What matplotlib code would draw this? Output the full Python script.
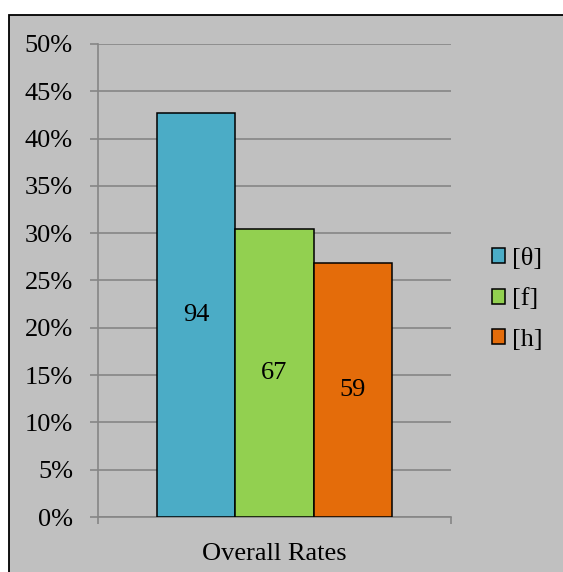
import matplotlib
matplotlib.use("Agg")
import matplotlib.pyplot as plt
from matplotlib.patches import Rectangle
from matplotlib.ticker import PercentFormatter, MultipleLocator

# Response counts per sound
sounds = ["[θ]", "[f]", "[h]"]
counts = [94, 67, 59]
category = "Overall Rates"
colors = ["#4BACC6", "#92D050", "#E46C0A"]

total = sum(counts)
shares = [c / total for c in counts]

plt.rcParams["font.family"] = ["Liberation Serif", "DejaVu Serif"]
FS = 19
GRID = "#868686"
BG = "#C0C0C0"

W, H = 563, 572
fig = plt.figure(figsize=(W / 100, H / 100), dpi=100)
fig.patch.set_facecolor("white")

# Chart area frame
fig.patches.append(Rectangle((9 / W, -0.05), 1.2, 1 - 15 / H + 0.05,
                             transform=fig.transFigure, facecolor=BG,
                             edgecolor="black", linewidth=1.3, zorder=-5))

ax = fig.add_axes([98 / W, 1 - 517 / H, (451 - 98) / W, (517 - 44) / H])
ax.set_zorder(2)
ax.patch.set_alpha(0)

width = 2 / 9
for i, (s, v, c, n) in enumerate(zip(sounds, shares, colors, counts)):
    x = 0.5 + (i - 1) * width
    ax.bar(x, v, width=width, color=c, edgecolor="black", linewidth=1.1,
           label=s, zorder=3)
    ax.text(x, v / 2, str(n), ha="center", va="center", fontsize=FS,
            color="black", zorder=4)

ax.set_xlim(0, 1)
ax.set_ylim(0, 0.5)
ax.yaxis.set_major_locator(MultipleLocator(0.05))
ax.yaxis.set_major_formatter(PercentFormatter(1.0, decimals=0))
ax.grid(axis="y", color=GRID, linewidth=1.2, zorder=1)
ax.set_axisbelow(True)

for side in ["top", "right"]:
    ax.spines[side].set_visible(False)
for side in ["left", "bottom"]:
    ax.spines[side].set_color(GRID)
    ax.spines[side].set_linewidth(1.2)

ax.tick_params(axis="y", direction="out", length=6, width=1.2, color=GRID,
               labelsize=FS, pad=12, labelcolor="black")
ax.set_xticks([0, 1])
ax.set_xticklabels(["", ""])
ax.tick_params(axis="x", which="major", direction="out", length=5, width=1.2,
               color=GRID)
ax.set_xticks([0.5], minor=True)
ax.set_xticklabels([category], minor=True)
ax.tick_params(axis="x", which="minor", length=0, labelsize=FS, pad=19,
               labelcolor="black")

leg = fig.legend(loc="upper left", bbox_to_anchor=(492 / W, 1 - 248 / H),
                 frameon=False, fontsize=FS, handlelength=0.5,
                 handleheight=0.5, handletextpad=0.25, labelspacing=0.7,
                 borderpad=0, borderaxespad=0)
leg.set_zorder(3)

fig.savefig("out.png", dpi=100)
